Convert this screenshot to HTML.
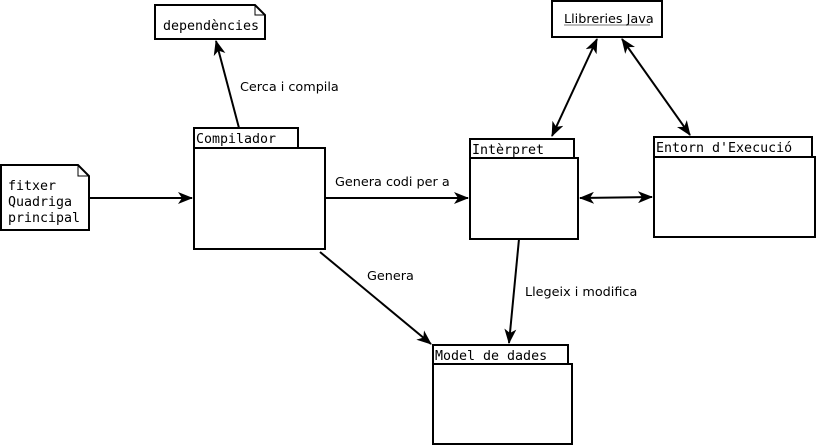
<!DOCTYPE html>
<html><head><meta charset="utf-8"><style>
html,body{margin:0;padding:0;background:#fff;width:816px;height:445px;overflow:hidden}
.m{font-family:"DejaVu Sans Mono","Liberation Mono",monospace;font-size:13.3px;fill:#000}
.s{font-family:"DejaVu Sans","Liberation Sans",sans-serif;font-size:12.8px;fill:#000}
</style></head><body>
<svg width="816" height="445" viewBox="0 0 816 445" xmlns="http://www.w3.org/2000/svg">
<defs>
<marker id="a" viewBox="0 0 15 12" refX="14" refY="6" markerWidth="15" markerHeight="12" markerUnits="userSpaceOnUse" orient="auto-start-reverse">
<path d="M0,0 L15,6 L0,12 L4,6 z" fill="#000"/>
</marker>
</defs>
<g fill="#fff" stroke="#000" stroke-width="2">
<path d="M155,5 H255 L265,15 V39 H155 Z"/>
<path d="M255,5 V15 H265" fill="none" stroke-width="1"/>
<path d="M1,165 H78 L89,176 V230 H1 Z"/>
<path d="M78,165 V176 H89" fill="none" stroke-width="1"/>
<rect x="194" y="128" width="104" height="20"/>
<rect x="194" y="148" width="131" height="101"/>
<rect x="470" y="139" width="104" height="19"/>
<rect x="470" y="158" width="108" height="81"/>
<rect x="654" y="137" width="158" height="20"/>
<rect x="654" y="157" width="161" height="80"/>
<rect x="552" y="1" width="110" height="36"/>
<rect x="433" y="345" width="135" height="19"/>
<rect x="433" y="364" width="139" height="80"/>
</g>
<line x1="564" y1="25" x2="650" y2="25" stroke="#777" stroke-width="1"/>
<g stroke="#000" stroke-width="2" fill="none">
<line x1="89" y1="198" x2="192" y2="198" marker-end="url(#a)"/>
<line x1="239" y1="128" x2="216" y2="41" marker-end="url(#a)"/>
<line x1="325" y1="198" x2="468" y2="198" marker-end="url(#a)"/>
<line x1="320" y1="252" x2="431" y2="344" marker-end="url(#a)"/>
<line x1="519" y1="239" x2="509" y2="343" marker-end="url(#a)"/>
<line x1="580" y1="198" x2="652" y2="197" marker-start="url(#a)" marker-end="url(#a)"/>
<line x1="597" y1="39" x2="552" y2="136" marker-start="url(#a)" marker-end="url(#a)"/>
<line x1="622" y1="39" x2="690" y2="135" marker-start="url(#a)" marker-end="url(#a)"/>
</g>
<text class="m" x="163" y="30">dependències</text>
<text class="m" x="8" y="190">fitxer</text>
<text class="m" x="8" y="206">Quadriga</text>
<text class="m" x="8" y="222">principal</text>
<text class="m" x="196" y="143">Compilador</text>
<text class="m" x="472" y="154">Intèrpret</text>
<text class="m" x="656" y="152">Entorn d'Execució</text>
<text class="m" x="435" y="360">Model de dades</text>
<text class="s" x="564" y="23">Llibreries Java</text>
<text class="s" x="240" y="91">Cerca i compila</text>
<text class="s" x="335" y="186">Genera codi per a</text>
<text class="s" x="367" y="280">Genera</text>
<text class="s" x="525" y="296">Llegeix i modifica</text>
</svg>
</body></html>
